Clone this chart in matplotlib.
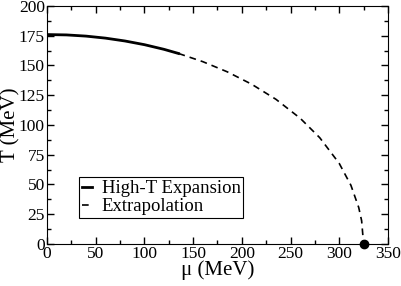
import matplotlib
matplotlib.use("Agg")
import matplotlib.pyplot as plt
from matplotlib.ticker import MultipleLocator

plt.rcParams['font.family'] = ['Liberation Serif', 'DejaVu Serif']

# high-T expansion part of the transition line
mu_solid = [0, 20, 40, 60, 80, 100, 120, 135]
T_solid = [176, 175.7, 174.7, 173.0, 170.6, 167.5, 163.6, 160.1]

# extrapolated part
mu_dash = [135, 160, 185, 210, 235, 260, 280, 300, 312, 320, 323, 325]
T_dash = [160.1, 153.2, 144.7, 134.3, 121.6, 105.6, 89.3, 67.7, 49.3, 30.7, 19.5, 0]

# critical endpoint on the mu axis
mu_end = [325]
T_end = [0]

fig = plt.figure(figsize=(4.02, 2.86), dpi=100)
ax = fig.add_axes([0.117, 0.147, 0.848, 0.832])

ax.plot(mu_solid, T_solid, color='black', lw=2.0, label='High-T Expansion')
ax.plot(mu_dash, T_dash, color='black', lw=1.2, ls=(0, (4, 3)), label='Extrapolation')
ax.plot(mu_end, T_end, 'o', color='black', ms=6, clip_on=False, zorder=5)

ax.set_xlim(0, 350)
ax.set_ylim(0, 200)
ax.xaxis.set_major_locator(MultipleLocator(50))
ax.xaxis.set_minor_locator(MultipleLocator(25))
ax.yaxis.set_major_locator(MultipleLocator(25))
ax.yaxis.set_minor_locator(MultipleLocator(12.5))
ax.tick_params(which='both', direction='in', top=True, right=True, labelsize=12.5, pad=1.5)
ax.tick_params(which='major', length=5, width=1)
ax.tick_params(which='minor', length=3, width=1)

ax.set_xlabel('μ (MeV)', fontsize=15, labelpad=-1)
ax.set_ylabel('T (MeV)', fontsize=15, labelpad=-1)

leg = ax.legend(loc='lower left', bbox_to_anchor=(0.094, 0.108), borderaxespad=0,
                fontsize=13.5, frameon=True, fancybox=False, edgecolor='black',
                framealpha=1, handlelength=0.55, handletextpad=0.5,
                borderpad=0.15, labelspacing=0.05)
leg.get_frame().set_linewidth(0.8)

fig.savefig('out.png', dpi=100)
